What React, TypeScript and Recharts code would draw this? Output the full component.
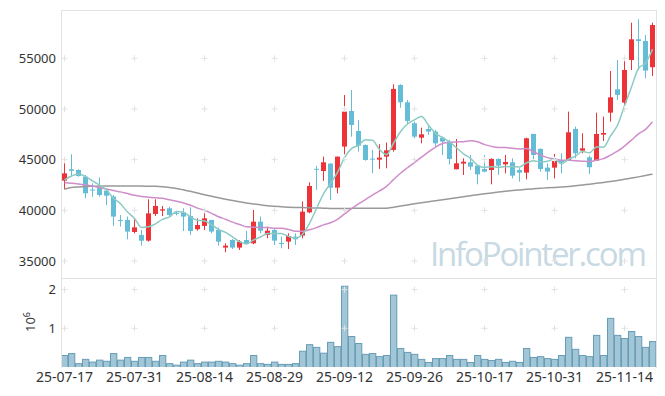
import React from 'react'
import { ComposedChart, Bar, Line, XAxis, YAxis, ReferenceDot } from 'recharts'

// trading days shown on the chart
const dates = [
  '25-07-17', '25-07-18', '25-07-21', '25-07-22', '25-07-23', '25-07-24', '25-07-25', '25-07-28', '25-07-29', '25-07-30',
  '25-07-31', '25-08-01', '25-08-04', '25-08-05', '25-08-06', '25-08-07', '25-08-08', '25-08-11', '25-08-12', '25-08-13',
  '25-08-14', '25-08-18', '25-08-19', '25-08-20', '25-08-21', '25-08-22', '25-08-25', '25-08-26', '25-08-27', '25-08-28',
  '25-08-29', '25-09-01', '25-09-02', '25-09-03', '25-09-04', '25-09-05', '25-09-08', '25-09-09', '25-09-10', '25-09-11',
  '25-09-12', '25-09-15', '25-09-16', '25-09-17', '25-09-18', '25-09-19', '25-09-22', '25-09-23', '25-09-24', '25-09-25',
  '25-09-26', '25-09-29', '25-09-30', '25-10-01', '25-10-02', '25-10-10', '25-10-13', '25-10-14', '25-10-15', '25-10-16',
  '25-10-17', '25-10-20', '25-10-21', '25-10-22', '25-10-23', '25-10-24', '25-10-27', '25-10-28', '25-10-29', '25-10-30',
  '25-10-31', '25-11-03', '25-11-04', '25-11-05', '25-11-06', '25-11-07', '25-11-10', '25-11-11', '25-11-12', '25-11-13',
  '25-11-14', '25-11-17', '25-11-18', '25-11-19', '25-11-20',
]

const opens = [
  42930, 44050, 43980, 43320, 42050, 42270, 41940, 41350, 39050, 39050,
  37860, 37570, 37010, 39640, 39970, 40200, 39750, 39770, 39440, 38130,
  38460, 39050, 38060, 36320, 37070, 36320, 37070, 36740, 38880, 37570,
  38060, 36780, 36910, 37400, 37500, 39800, 44100, 43880, 44610, 42240,
  46290, 49800, 47830, 46450, 45100, 45000, 45300, 45960, 52370, 50660,
  48590, 47170, 48030, 47770, 47170, 46780, 44050, 44610, 44740, 44410,
  44080, 43980, 45070, 44540, 44740, 43980, 43720, 47540, 46060, 44210,
  44210, 44870, 44970, 48030, 45890, 45230, 44900, 47470, 49640, 51940,
  50630, 54840, 56880, 56710, 54120,
]
const highs = [
  44640, 45530, 44050, 43490, 42670, 43230, 42070, 41510, 39540, 39380,
  39210, 38060, 41090, 41090, 40430, 40360, 39950, 40200, 40300, 39210,
  40100, 39050, 38290, 36740, 37170, 37070, 37960, 40030, 39380, 38390,
  38160, 37400, 37730, 37730, 40860, 42760, 44380, 45300, 44640, 45300,
  51380, 51880, 48920, 46500, 45960, 46520, 46680, 52440, 52440, 50890,
  48750, 48160, 48420, 47930, 47270, 46940, 47040, 45130, 45460, 44480,
  45460, 45130, 45130, 45460, 45130, 44150, 47170, 47540, 46120, 44640,
  45560, 45630, 49740, 48260, 47600, 45400, 49640, 49250, 53750, 54840,
  55170, 58520, 58850, 57310, 58520,
]
const lows = [
  42080, 43320, 43320, 41190, 41350, 41350, 40530, 38460, 38390, 37140,
  37730, 36510, 36910, 39440, 39440, 39380, 39500, 37960, 37570, 37990,
  38060, 37730, 36510, 35860, 36180, 36090, 36650, 36650, 37730, 37240,
  36580, 36250, 36180, 36580, 37240, 39700, 42010, 42900, 41020, 41680,
  45530, 47270, 45790, 44900, 43650, 44080, 44150, 45790, 50130, 48490,
  47110, 46610, 47440, 46290, 45460, 44540, 44050, 43490, 43980, 42570,
  43750, 42570, 43490, 43650, 43160, 42830, 43060, 45040, 43820, 43000,
  43160, 43650, 44870, 45130, 45630, 43590, 44900, 46840, 48750, 50890,
  50230, 53850, 53850, 53030, 53260,
]
const closes = [
  43650, 43900, 43390, 41680, 41950, 41510, 41450, 39380, 38950, 37900,
  38320, 37000, 39700, 40430, 40100, 39540, 39650, 39380, 37960, 38550,
  39210, 37900, 36910, 36510, 36320, 36910, 36740, 38880, 37990, 37990,
  37010, 36700, 37470, 37140, 39870, 42400, 44000, 44740, 42240, 45300,
  49740, 48420, 46380, 44970, 45030, 45200, 45920, 51980, 50660, 48820,
  47270, 47500, 47770, 46610, 46780, 45070, 44640, 44800, 44310, 43550,
  43820, 45070, 44410, 44770, 43420, 43720, 47110, 45460, 44080, 43820,
  44870, 44710, 47700, 45630, 46120, 44250, 47540, 47630, 51150, 51390,
  53850, 56880, 56710, 53790, 58290,
]

// moving averages
const ma5 = [
  43000, 43390, 43590, 43330, 42910, 42490, 42000, 41190, 40650, 39840,
  39200, 38310, 38370, 38670, 39110, 39350, 39880, 39820, 39330, 39020,
  38950, 38600, 38110, 37820, 37370, 36910, 36680, 37070, 37370, 37700,
  37720, 37710, 37430, 37260, 37640, 38720, 40180, 41630, 42650, 43740,
  45200, 46090, 46420, 46960, 46910, 46000, 45500, 46620, 47760, 48520,
  48930, 49250, 48400, 47590, 47190, 46750, 46170, 45580, 45120, 44470,
  44220, 44310, 44230, 44320, 44300, 44280, 44690, 44900, 44760, 44840,
  45070, 44590, 45040, 45350, 45810, 45680, 46250, 46230, 47340, 48390,
  50310, 52180, 54000, 54520, 55900,
]
const ma20 = [
  42730, 42680, 42600, 42500, 42400, 42250, 42100, 41950, 41820, 41650,
  41480, 41370, 41300, 41240, 41180, 41050, 40900, 40730, 40500, 40220,
  40000, 39700, 39370, 39120, 38830, 38600, 38370, 38340, 38300, 38300,
  38230, 38220, 38110, 37940, 37930, 38080, 38290, 38560, 38770, 39110,
  39640, 40160, 40640, 41060, 41500, 41910, 42370, 43030, 43660, 44200,
  44710, 45250, 45770, 46240, 46590, 46720, 46750, 46760, 46860, 46770,
  46480, 46310, 46210, 46200, 46120, 46050, 46100, 45780, 45450, 45200,
  45080, 44940, 44940, 44890, 44850, 44810, 44960, 45100, 45440, 45830,
  46340, 46930, 47540, 47990, 48740,
]
const ma60 = [
  42080, 42250, 42300, 42340, 42370, 42400, 42400, 42410, 42410, 42400,
  42400, 42390, 42380, 42370, 42330, 42250, 42150, 42020, 41880, 41700,
  41540, 41380, 41230, 41090, 40960, 40840, 40730, 40630, 40540, 40450,
  40390, 40340, 40310, 40290, 40270, 40250, 40230, 40210, 40190, 40180,
  40180, 40190, 40200, 40200, 40200, 40200, 40210, 40310, 40420, 40530,
  40640, 40740, 40840, 40940, 41040, 41140, 41240, 41340, 41440, 41540,
  41630, 41720, 41800, 41880, 41950, 42010, 42070, 42120, 42170, 42220,
  42260, 42300, 42350, 42420, 42500, 42580, 42660, 42750, 42850, 42950,
  43060, 43180, 43300, 43430, 43570,
]

const volumes = [
  310000, 360000, 100000, 210000, 140000, 190000, 160000, 360000, 190000, 260000,
  160000, 260000, 260000, 160000, 310000, 100000, 60000, 140000, 190000, 100000,
  140000, 140000, 160000, 140000, 100000, 60000, 100000, 310000, 100000, 80000,
  140000, 80000, 80000, 100000, 420000, 590000, 520000, 370000, 650000, 540000,
  2100000, 800000, 620000, 340000, 360000, 280000, 310000, 1870000, 490000, 390000,
  340000, 210000, 130000, 230000, 230000, 310000, 210000, 210000, 130000, 310000,
  210000, 180000, 210000, 130000, 160000, 130000, 490000, 260000, 280000, 230000,
  210000, 310000, 780000, 470000, 310000, 280000, 830000, 310000, 1270000, 830000,
  750000, 930000, 800000, 520000, 670000,
]

const priceTicks = [35000, 40000, 45000, 50000, 55000]
const volumeTicks = [1000000, 2000000]

const UP = '#ec3338'
const DOWN = '#64bcd6'

const rows = dates.map((date, i) => ({
  date,
  range: [lows[i], highs[i]],
  open: opens[i],
  close: closes[i],
  high: highs[i],
  low: lows[i],
  ma5: ma5[i],
  ma20: ma20[i],
  ma60: ma60[i],
  volume: volumes[i],
}))

const gridDates = dates.filter((_, i) => i % 10 === 0)

function Candle(props: any) {
  const { x, y, width, height, index } = props
  const d = props.payload ?? rows[index]
  const color = d.close >= d.open ? UP : DOWN
  const span = d.high - d.low
  const k = span > 0 ? height / span : 0
  const top = y + (d.high - Math.max(d.open, d.close)) * k
  const bottom = y + (d.high - Math.min(d.open, d.close)) * k
  const cx = x + width / 2
  return (
    <g>
      <rect x={cx - 0.5} y={y} width={1} height={Math.max(1, height)} fill={color} />
      <rect x={x} y={top} width={width} height={Math.max(1, bottom - top)} fill={color} />
    </g>
  )
}

function VolumeBar(props: any) {
  const { x, y, width, height } = props
  if (!height) return null
  return (
    <rect
      x={x + 0.5}
      y={y + 0.5}
      width={width}
      height={height}
      fill="#9bc1d2"
      fillOpacity={0.92}
      stroke="#669db7"
      strokeWidth={1}
    />
  )
}

function Cross(props: any) {
  const { cx, cy } = props
  return <path d={`M${cx - 3},${cy}h6M${cx},${cy - 3}v6`} stroke="#e2e2e2" strokeWidth={1} fill="none" />
}

const axisTick = { fontSize: 13, fill: '#333' }

export default function App() {
  return (
    <div
      style={{
        position: 'absolute',
        left: 0,
        top: 0,
        width: 665,
        height: 396,
        background: '#fff',
        fontFamily: '"Noto Sans", sans-serif',
      }}
    >
      <svg width={665} height={396} style={{ position: 'absolute', left: 0, top: 0 }}>
        <text x={430} y={266} fontSize={33} fill="#c7d9e3" textLength={217} fontFamily='"Open Sans", sans-serif'>
          InfoPointer.com
        </text>
      </svg>

      <div style={{ position: 'absolute', left: 0, top: 0 }}>
        <ComposedChart width={665} height={280} data={rows} margin={{ top: 10, right: 9, bottom: 2, left: 0 }}>
          <XAxis dataKey="date" hide />
          <YAxis
            type="number"
            domain={[33320, 59770]}
            ticks={priceTicks}
            allowDataOverflow
            width={61}
            tickLine={false}
            axisLine={false}
            tickSize={3}
            tickMargin={2}
            tick={axisTick}
          />
          {gridDates.map((d) =>
            priceTicks.map((p) => (
              <ReferenceDot key={`${d}-${p}`} x={d} y={p} r={3} shape={Cross} />
            ))
          )}
          <Line type="monotone" dataKey="ma60" stroke="#999999" strokeWidth={1.5} dot={false} isAnimationActive={false} />
          <Line type="monotone" dataKey="ma20" stroke="#cf8dca" strokeWidth={1.5} dot={false} isAnimationActive={false} />
          <Line type="monotone" dataKey="ma5" stroke="#8ccbc4" strokeWidth={1.5} dot={false} isAnimationActive={false} />
          <Bar dataKey="range" barSize={5} shape={Candle} isAnimationActive={false} />
        </ComposedChart>
      </div>

      <div style={{ position: 'absolute', left: 0, top: 278 }}>
        <ComposedChart
          width={665}
          height={118}
          data={rows}
          margin={{ top: 0, right: 9, bottom: 0, left: 0 }}
          barCategoryGap={0}
        >
          <XAxis
            dataKey="date"
            interval={9}
            height={29}
            tickLine={false}
            axisLine={false}
            tickSize={3}
            tickMargin={2}
            tick={{ fontSize: 14, fill: '#333' }}
          />
          <YAxis
            type="number"
            domain={[0, 2300000]}
            ticks={volumeTicks}
            allowDataOverflow
            width={61}
            tickLine={false}
            axisLine={false}
            tickSize={3}
            tickMargin={2}
            tick={axisTick}
            tickFormatter={(v: number) => String(v / 1000000)}
          />
          {gridDates.map((d) =>
            volumeTicks.map((v) => (
              <ReferenceDot key={`${d}-${v}`} x={d} y={v} r={3} shape={Cross} />
            ))
          )}
          <Bar dataKey="volume" barSize={7} shape={VolumeBar} isAnimationActive={false} />
        </ComposedChart>
      </div>

      <svg width={665} height={396} style={{ position: 'absolute', left: 0, top: 0, pointerEvents: 'none' }}>
        <rect x={61.5} y={10.5} width={595} height={268} fill="none" stroke="#e3e3e3" />
        <line x1={61.5} y1={278} x2={61.5} y2={368} stroke="#e3e3e3" />
        <line x1={656.5} y1={278} x2={656.5} y2={368} stroke="#e3e3e3" />
        <text transform="rotate(-90, 35, 332)" x={35} y={332} fontSize={13} fill="#333">
          10
          <tspan dy={-5} fontSize={9}>6</tspan>
        </text>
      </svg>
    </div>
  )
}
